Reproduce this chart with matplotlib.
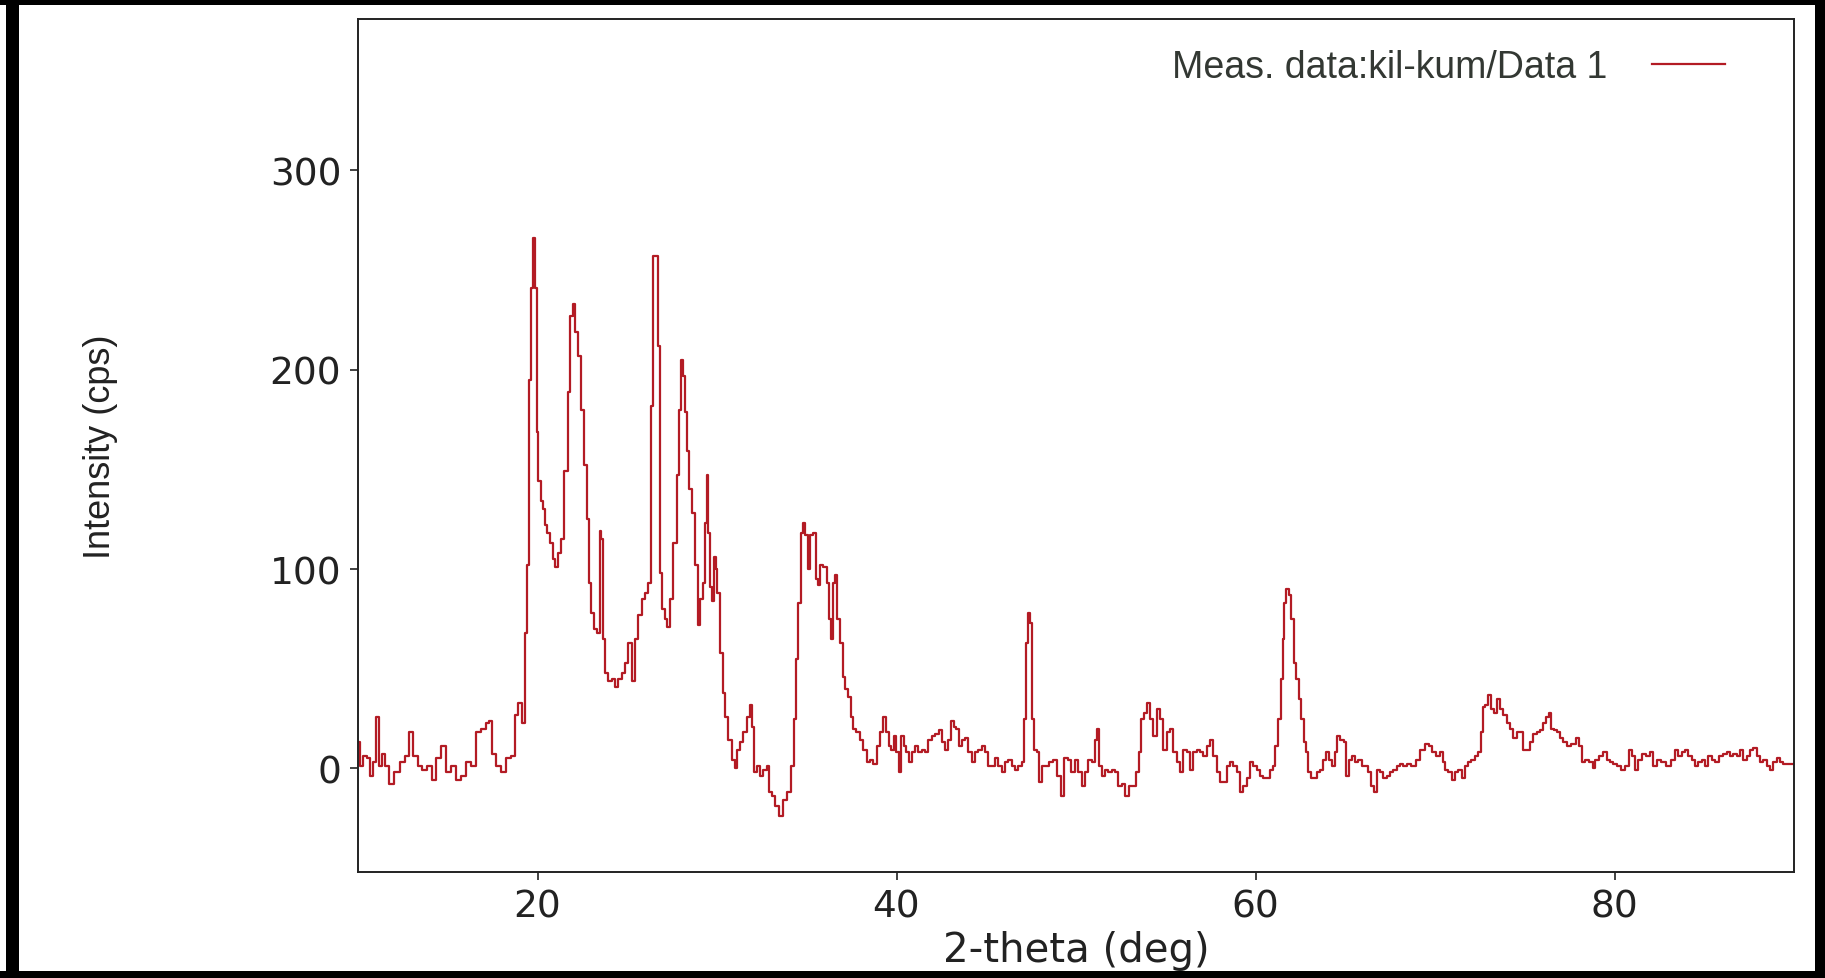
import matplotlib
matplotlib.use("Agg")
import matplotlib.pyplot as plt
from matplotlib.patches import Rectangle

# =========================
# XRD scan
# =========================
two_theta = [
    10.00, 10.20, 10.39, 10.58, 10.76, 10.95, 11.08, 11.23, 11.41, 11.60,
    11.88, 12.15, 12.53, 12.71, 12.99, 13.18, 13.45, 13.73, 14.01, 14.20,
    14.48, 14.75, 15.03, 15.31, 15.59, 15.87, 16.15, 16.42, 16.70, 16.98,
    17.26, 17.35, 17.54, 17.82, 18.10, 18.37, 18.65, 18.84, 19.03, 19.21,
    19.36, 19.45, 19.55, 19.71, 19.82, 19.92, 19.97, 20.14, 20.23, 20.36,
    20.47, 20.60, 20.79, 20.92, 21.03, 21.22, 21.40, 21.59, 21.77, 21.90,
    22.03, 22.18, 22.33, 22.52, 22.70, 22.83, 22.96, 23.05, 23.20, 23.39,
    23.52, 23.61, 23.70, 23.85, 24.04, 24.22, 24.41, 24.60, 24.78, 24.97,
    25.15, 25.34, 25.52, 25.71, 25.90, 26.08, 26.27, 26.40, 26.50, 26.64,
    26.79, 26.90, 27.01, 27.16, 27.29, 27.47, 27.66, 27.85, 27.94, 28.07,
    28.16, 28.25, 28.40, 28.53, 28.68, 28.87, 28.96, 29.15, 29.28, 29.39,
    29.46, 29.55, 29.65, 29.78, 29.89, 29.98, 30.07, 30.26, 30.39, 30.54,
    30.72, 30.91, 31.04, 31.19, 31.37, 31.56, 31.75, 31.88, 31.99, 32.12,
    32.30, 32.49, 32.67, 32.86, 32.95, 33.14, 33.33, 33.55, 33.79, 34.03,
    34.22, 34.35, 34.48, 34.59, 34.72, 34.85, 35.00, 35.14, 35.27, 35.46,
    35.59, 35.70, 35.83, 36.02, 36.20, 36.30, 36.39, 36.52, 36.63, 36.76,
    36.94, 37.08, 37.22, 37.41, 37.50, 37.63, 37.87, 38.06, 38.25, 38.43,
    38.62, 38.80, 38.99, 39.17, 39.36, 39.49, 39.64, 39.79, 39.92, 40.05,
    40.20, 40.33, 40.47, 40.60, 40.79, 40.97, 41.12, 41.31, 41.50, 41.68,
    41.87, 42.05, 42.27, 42.46, 42.61, 42.79, 42.98, 43.11, 43.26, 43.39,
    43.54, 43.72, 43.91, 44.10, 44.32, 44.47, 44.65, 44.84, 45.02, 45.21,
    45.39, 45.58, 45.77, 45.95, 46.14, 46.32, 46.51, 46.69, 46.88, 47.07,
    47.16, 47.25, 47.38, 47.49, 47.59, 47.72, 47.90, 47.99, 48.18, 48.37,
    48.64, 48.83, 49.02, 49.26, 49.44, 49.63, 49.81, 50.04, 50.22, 50.41,
    50.60, 50.78, 50.97, 51.11, 51.24, 51.37, 51.52, 51.71, 51.89, 52.08,
    52.27, 52.45, 52.64, 52.86, 53.05, 53.29, 53.42, 53.57, 53.72, 53.90,
    54.03, 54.22, 54.40, 54.59, 54.77, 54.96, 55.14, 55.33, 55.52, 55.70,
    55.89, 56.07, 56.26, 56.44, 56.63, 56.82, 57.00, 57.19, 57.37, 57.56,
    57.74, 57.93, 58.12, 58.30, 58.49, 58.67, 58.86, 59.04, 59.23, 59.42,
    59.60, 59.79, 59.97, 60.16, 60.34, 60.53, 60.72, 60.90, 61.03, 61.18,
    61.33, 61.46, 61.55, 61.64, 61.77, 61.92, 62.07, 62.20, 62.33, 62.48,
    62.63, 62.76, 62.89, 63.00, 63.13, 63.32, 63.50, 63.69, 63.87, 64.00,
    64.15, 64.34, 64.49, 64.63, 64.82, 64.99, 65.12, 65.26, 65.45, 65.64,
    65.82, 66.01, 66.19, 66.38, 66.53, 66.68, 66.84, 67.03, 67.21, 67.40,
    67.59, 67.77, 67.96, 68.14, 68.33, 68.51, 68.79, 69.07, 69.31, 69.54,
    69.76, 69.94, 70.19, 70.37, 70.50, 70.65, 70.84, 71.06, 71.21, 71.39,
    71.58, 71.73, 71.91, 72.13, 72.32, 72.47, 72.60, 72.73, 72.88, 73.03,
    73.21, 73.40, 73.55, 73.71, 73.90, 74.09, 74.27, 74.46, 74.64, 74.83,
    74.98, 75.20, 75.38, 75.57, 75.76, 75.94, 76.13, 76.26, 76.41, 76.55,
    76.68, 76.87, 77.06, 77.24, 77.43, 77.71, 77.98, 78.11, 78.23, 78.45,
    78.73, 78.86, 79.01, 79.28, 79.47, 79.66, 79.84, 80.03, 80.21, 80.49,
    80.68, 80.90, 81.09, 81.23, 81.42, 81.61, 81.88, 82.07, 82.26, 82.50,
    82.72, 83.00, 83.28, 83.46, 83.65, 83.83, 84.02, 84.21, 84.39, 84.58,
    84.76, 84.95, 85.13, 85.32, 85.51, 85.69, 85.97, 86.16, 86.34, 86.53,
    86.71, 86.90, 87.08, 87.27, 87.45, 87.64, 87.83, 88.01, 88.20, 88.38,
    88.57, 88.75, 88.94, 89.13, 89.31, 89.50, 89.78, 90.00,
]

intensity = [
    13, 1, 6, 5, -4, 3, 26, 1, 7, 1,
    -8, -2, 3, 6, 18, 6, 1, -1, 1, -6,
    5, 11, -2, 1, -6, -4, 3, 1, 18, 20,
    23, 24, 7, 1, -2, 5, 6, 27, 33, 23,
    68, 102, 195, 241, 266, 241, 169, 144, 134, 130,
    122, 118, 113, 105, 101, 108, 115, 149, 189, 227,
    233, 219, 207, 180, 152, 125, 93, 78, 70, 68,
    119, 115, 65, 48, 44, 45, 41, 45, 48, 53,
    63, 44, 65, 77, 85, 88, 93, 182, 257, 257,
    212, 98, 80, 75, 71, 85, 113, 147, 180, 205,
    197, 179, 159, 140, 128, 102, 72, 85, 93, 123,
    147, 118, 91, 84, 106, 100, 88, 58, 38, 26,
    14, 4, 0, 9, 13, 18, 26, 32, 21, -2,
    1, -4, -1, 1, -12, -14, -19, -24, -16, -12,
    1, 25, 55, 83, 118, 123, 117, 100, 117, 118,
    95, 92, 102, 101, 93, 75, 65, 93, 97, 75,
    63, 46, 40, 36, 26, 20, 18, 14, 9, 3,
    4, 2, 11, 18, 26, 18, 11, 9, 16, 8,
    -2, 16, 11, 8, 3, 8, 11, 8, 9, 8,
    14, 16, 17, 19, 13, 9, 14, 24, 21, 20,
    11, 14, 15, 8, 3, 8, 9, 11, 8, 1,
    1, 5, 1, -2, 3, 4, 1, -1, 1, 3,
    25, 63, 78, 73, 25, 9, 8, -7, 1, 1,
    3, 4, -4, -14, 5, 4, -2, 4, -2, -9,
    -2, 4, 3, 14, 20, 1, -4, -1, -2, -1,
    -2, -9, -8, -14, -9, -9, -2, 8, 25, 28,
    33, 25, 16, 30, 25, 9, 18, 20, 8, 3,
    -2, 9, 8, -1, 8, 9, 8, 6, 11, 14,
    6, -2, -7, -7, 1, 3, 1, -2, -12, -9,
    -5, 3, 1, -1, -4, -5, -5, -1, 1, 11,
    25, 45, 65, 83, 90, 87, 75, 53, 45, 35,
    25, 13, 8, -2, -5, -5, -2, -1, 4, 8,
    4, 1, 8, 16, 14, 13, -4, 4, 6, 3,
    4, 1, 1, -2, -9, -12, -1, -2, -5, -4,
    -2, -1, 1, 2, 1, 2, 1, 4, 9, 12,
    11, 8, 6, 8, 3, -1, -2, -6, -2, -1,
    -5, 1, 3, 4, 6, 8, 18, 31, 32, 37,
    30, 28, 35, 30, 27, 23, 20, 15, 18, 18,
    9, 9, 13, 17, 18, 19, 23, 26, 28, 20,
    19, 18, 15, 13, 11, 12, 15, 11, 3, 4,
    3, 0, 4, 6, 8, 4, 3, 2, 1, -1,
    1, 9, 6, -1, 4, 7, 6, 8, 1, 4,
    3, 1, 4, 9, 6, 8, 9, 6, 4, 1,
    3, 4, 1, 6, 4, 3, 6, 7, 8, 6,
    7, 6, 9, 4, 6, 9, 10, 6, 3, 4,
    1, -1, 3, 5, 3, 2, 2, 2,
]

x_ticks = [20, 40, 60, 80]
y_ticks = [0, 100, 200, 300]
series_label = "Meas. data:kil-kum/Data 1"

W, H = 1825, 979
fig = plt.figure(figsize=(W / 100, H / 100), dpi=100)
ax = fig.add_axes([358 / W, (H - 873) / H, (1794 - 358) / W, (873 - 20) / H])

ax.plot(two_theta, intensity, color="#b31b24", linewidth=1.6,
        drawstyle="steps-mid", label=series_label)

ax.set_xlim(10, 90)
ax.set_ylim(-52, 376)
ax.set_xticks(x_ticks)
ax.set_yticks(y_ticks)

for side in ["left", "right", "top", "bottom"]:
    ax.spines[side].set_linewidth(1.4)
    ax.spines[side].set_color("#222222")

ax.tick_params(direction="out", length=6, width=1.2, color="#222222",
               labelsize=27, pad=6, top=False, right=False)
for lbl in ax.get_xticklabels() + ax.get_yticklabels():
    lbl.set_fontfamily("DejaVu Sans")
    lbl.set_color("#222222")

ax.set_xlabel("2-theta (deg)", fontsize=29, family="DejaVu Sans",
              color="#222222", labelpad=4)
ax.set_ylabel("Intensity (cps)", fontsize=26,
              family=["Liberation Sans Narrow", "Liberation Sans"],
              color="#222222")
ax.yaxis.set_label_coords((118 - 358) / (1794 - 358), 0.5)

leg = ax.legend(loc="center right", bbox_to_anchor=(0.952, 0.944),
                frameon=False, markerfirst=False, handlelength=1.95,
                handletextpad=1.2, borderpad=0, borderaxespad=0,
                prop={"family": "Liberation Sans", "size": 27})
for t in leg.get_texts():
    t.set_color("#333833")

# 🔹 thick black frame round the whole picture
for (x0, y0, w, h) in [(6, 0, 13, H), (0, 0, W, 6), (1815, 0, 10, H), (0, 972, W, 7)]:
    fig.add_artist(Rectangle((x0 / W, (H - y0 - h) / H), w / W, h / H,
                             transform=fig.transFigure, color="black", lw=0))

fig.savefig("out.png", dpi=100)
